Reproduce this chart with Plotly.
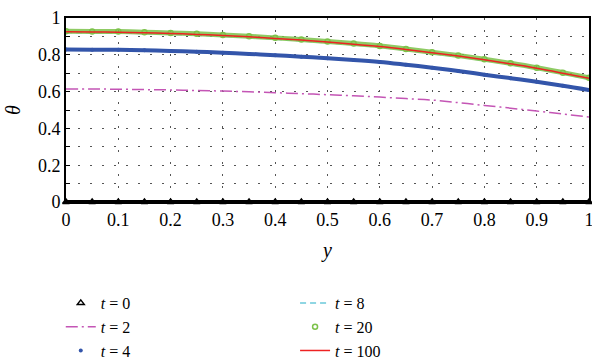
import plotly.graph_objects as go

y_pos = [0.0, 0.05, 0.1, 0.15, 0.2, 0.25, 0.3, 0.35, 0.4, 0.45, 0.5,
         0.55, 0.6, 0.65, 0.7, 0.75, 0.8, 0.85, 0.9, 0.95, 1.0]

theta_t0 = [0.0] * 21
theta_t2 = [0.614, 0.614, 0.613, 0.611, 0.609, 0.606, 0.603, 0.599, 0.594, 0.589, 0.583,
            0.577, 0.570, 0.562, 0.554, 0.540, 0.525, 0.510, 0.494, 0.478, 0.462]
theta_t4 = [0.829, 0.828, 0.827, 0.825, 0.821, 0.817, 0.811, 0.805, 0.798, 0.790, 0.781,
            0.772, 0.761, 0.746, 0.730, 0.712, 0.692, 0.673, 0.653, 0.632, 0.609]
theta_t8 = [0.922, 0.921, 0.920, 0.917, 0.913, 0.908, 0.902, 0.895, 0.886, 0.877, 0.866,
            0.855, 0.842, 0.826, 0.808, 0.790, 0.770, 0.748, 0.724, 0.697, 0.669]
theta_t20 = [0.928, 0.927, 0.926, 0.923, 0.919, 0.914, 0.908, 0.901, 0.892, 0.883, 0.872,
             0.861, 0.848, 0.832, 0.814, 0.796, 0.776, 0.754, 0.730, 0.703, 0.675]
theta_t100 = [0.925, 0.924, 0.923, 0.920, 0.916, 0.911, 0.905, 0.898, 0.889, 0.880, 0.869,
              0.858, 0.845, 0.829, 0.811, 0.793, 0.773, 0.751, 0.727, 0.700, 0.672]

x_ticks = [0, 0.1, 0.2, 0.3, 0.4, 0.5, 0.6, 0.7, 0.8, 0.9, 1]
x_ticklabels = ["0", "0.1", "0.2", "0.3", "0.4", "0.5", "0.6", "0.7", "0.8", "0.9", "1"]
y_ticks = [0, 0.2, 0.4, 0.6, 0.8, 1]
y_ticklabels = ["0", "0.2", "0.4", "0.6", "0.8", "1"]

FONT = "Liberation Serif, DejaVu Serif, Times New Roman, serif"
BLUE = "#3355aa"
PINK = "#c455b5"
CYAN = "#8fd6e3"
GREEN = "#7cc24a"
RED = "#ee2222"

fig = go.Figure()

fig.add_trace(go.Scatter(x=y_pos, y=theta_t8, mode="lines", line=dict(color=CYAN, width=2, dash="6px,4px", shape="spline"),
                         name="<i>t</i> = 8", legend="legend2"))
fig.add_trace(go.Scatter(x=y_pos, y=theta_t20, mode="lines", line=dict(color=GREEN, width=5, shape="spline"),
                         showlegend=False, hoverinfo="skip", opacity=0.85))
fig.add_trace(go.Scatter(x=y_pos, y=theta_t20, mode="markers",
                         marker=dict(symbol="circle-open", size=5, color=GREEN, line=dict(width=1.5, color=GREEN)),
                         name="<i>t</i> = 20", legend="legend2"))
fig.add_trace(go.Scatter(x=y_pos, y=theta_t100, mode="lines", line=dict(color=RED, width=1.5, shape="spline"),
                         name="<i>t</i> = 100", legend="legend2"))

fig.add_trace(go.Scatter(x=y_pos, y=theta_t0, mode="lines", line=dict(color="black", width=4),
                         showlegend=False, hoverinfo="skip", cliponaxis=False))
fig.add_trace(go.Scatter(x=y_pos, y=theta_t0, mode="markers", cliponaxis=False,
                         marker=dict(symbol="triangle-up-open", size=6, color="black", line=dict(width=1.5, color="black")),
                         name="<i>t</i> = 0", legend="legend"))
fig.add_trace(go.Scatter(x=y_pos, y=theta_t2, mode="lines",
                         line=dict(color=PINK, width=1.5, dash="12px,4px,2px,4px", shape="spline"),
                         name="<i>t</i> = 2", legend="legend"))
fig.add_trace(go.Scatter(x=y_pos, y=theta_t4, mode="lines", line=dict(color=BLUE, width=4, shape="spline"),
                         showlegend=False, hoverinfo="skip"))
fig.add_trace(go.Scatter(x=y_pos, y=theta_t4, mode="markers",
                         marker=dict(symbol="circle", size=4, color=BLUE),
                         name="<i>t</i> = 4", legend="legend"))

grid = dict(showgrid=True, gridcolor="#555555", griddash="2px,10px", gridwidth=1)

fig.update_layout(
    width=592, height=362,
    margin=dict(l=66, r=3, t=18, b=160, autoexpand=False),
    paper_bgcolor="white", plot_bgcolor="white",
    font=dict(family=FONT, size=18, color="black"),
    xaxis=dict(range=[0, 1], tickvals=x_ticks, ticktext=x_ticklabels,
               showline=True, linecolor="black", linewidth=2, mirror=True,
               ticks="", zeroline=False, ticklabeloverflow="allow",
               title=dict(text="<i>y</i>", standoff=14, font=dict(size=20)),
               **grid),
    yaxis=dict(range=[0, 1], tickvals=y_ticks, ticktext=y_ticklabels,
               showline=True, linecolor="black", linewidth=2, mirror=True,
               ticks="inside", ticklen=4, tickcolor="black", zeroline=False,
               minor=dict(dtick=0.1, tick0=0, ticks="inside", ticklen=4, tickcolor="black",
                          showgrid=True, gridcolor="#555555", griddash="2px,10px", gridwidth=1),
               title=dict(text="<i>θ</i>", standoff=12, font=dict(size=20)),
               **grid),
    legend=dict(x=-0.01, y=0.21, yref="container", xanchor="left", yanchor="top", orientation="v",
                bgcolor="rgba(0,0,0,0)", font=dict(size=16), tracegroupgap=0,
                traceorder="normal"),
    legend2=dict(x=0.438, y=0.21, yref="container", xanchor="left", yanchor="top", orientation="v",
                 bgcolor="rgba(0,0,0,0)", font=dict(size=16), tracegroupgap=0,
                 traceorder="normal"),
    showlegend=True,
)

fig.write_html("out.html")
